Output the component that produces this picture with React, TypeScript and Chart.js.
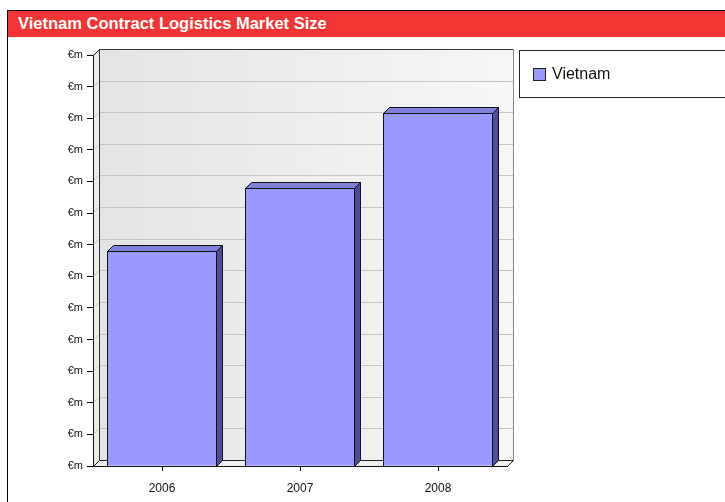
import React, { useEffect, useRef } from 'react';
import { Chart, registerables } from 'chart.js';

Chart.register(...registerables);

const title = 'Vietnam Contract Logistics Market Size';
const categories = ['2006', '2007', '2008'];
const seriesName = 'Vietnam';
const values = [6.8, 8.8, 11.15];
const yTickLabels = ['€m', '€m', '€m', '€m', '€m', '€m', '€m', '€m', '€m', '€m', '€m', '€m', '€m', '€m'];

const DEPTH = 6;
const FONT = "'Liberation Sans', Arial, sans-serif";

const wallsPlugin = {
  id: 'walls3d',
  beforeDraw(chart: any) {
    const { ctx, chartArea } = chart;
    const { left, right, top, bottom } = chartArea;
    const y = chart.scales.y;
    const d = DEPTH;
    ctx.save();
    const g = ctx.createLinearGradient(left + d, 0, right + d, 0);
    g.addColorStop(0, '#e4e4e4');
    g.addColorStop(1, '#f7f7f7');
    ctx.fillStyle = g;
    ctx.fillRect(left + d, top - d, right - left, bottom - top);
    ctx.beginPath();
    ctx.moveTo(left, top);
    ctx.lineTo(left + d, top - d);
    ctx.lineTo(left + d, bottom - d);
    ctx.lineTo(left, bottom);
    ctx.closePath();
    ctx.fillStyle = '#ececec';
    ctx.fill();
    ctx.strokeStyle = '#c4c4c4';
    ctx.lineWidth = 1;
    y.ticks.forEach((t: any) => {
      const py = Math.round(y.getPixelForValue(t.value)) + 0.5;
      ctx.beginPath();
      ctx.moveTo(left + d, py - d);
      ctx.lineTo(right + d, py - d);
      ctx.stroke();
      ctx.beginPath();
      ctx.moveTo(left, py);
      ctx.lineTo(left + d, py - d);
      ctx.stroke();
    });
    ctx.strokeStyle = '#333';
    ctx.beginPath();
    ctx.moveTo(left + d + 0.5, bottom - d);
    ctx.lineTo(left + d + 0.5, top - d + 0.5);
    ctx.lineTo(right + d + 0.5, top - d + 0.5);
    ctx.stroke();
    ctx.strokeStyle = '#888';
    ctx.beginPath();
    ctx.moveTo(right + d + 0.5, top - d + 0.5);
    ctx.lineTo(right + d + 0.5, bottom - d);
    ctx.stroke();
    ctx.strokeStyle = '#222';
    ctx.beginPath();
    ctx.moveTo(left + 0.5, bottom);
    ctx.lineTo(left + 0.5, top + 0.5);
    ctx.lineTo(left + d + 0.5, top - d + 0.5);
    ctx.stroke();
    ctx.beginPath();
    ctx.moveTo(left + 0.5, bottom + 0.5);
    ctx.lineTo(left + d + 0.5, bottom - d + 0.5);
    ctx.lineTo(right + d + 0.5, bottom - d + 0.5);
    ctx.lineTo(right + 0.5, bottom + 0.5);
    ctx.closePath();
    ctx.fillStyle = '#efefef';
    ctx.fill();
    ctx.strokeStyle = '#222';
    ctx.stroke();
    ctx.restore();
  },
  afterDatasetsDraw(chart: any) {
    const { ctx } = chart;
    const d = DEPTH;
    const meta = chart.getDatasetMeta(0);
    ctx.save();
    ctx.lineWidth = 1;
    ctx.strokeStyle = '#111';
    meta.data.forEach((bar: any) => {
      const p = bar.getProps(['x', 'y', 'base', 'width'], true);
      const l = Math.round(p.x - p.width / 2) + 0.5;
      const r = Math.round(p.x + p.width / 2) - 0.5;
      const t = Math.round(p.y) + 0.5;
      const b = Math.round(p.base) + 0.5;
      ctx.strokeRect(l, t, r - l, b - t);
      ctx.beginPath();
      ctx.moveTo(l, t);
      ctx.lineTo(l + d, t - d);
      ctx.lineTo(r + d, t - d);
      ctx.lineTo(r, t);
      ctx.closePath();
      ctx.fillStyle = '#8080df';
      ctx.fill();
      ctx.stroke();
      ctx.beginPath();
      ctx.moveTo(r, t);
      ctx.lineTo(r + d, t - d);
      ctx.lineTo(r + d, b - d);
      ctx.lineTo(r, b);
      ctx.closePath();
      ctx.fillStyle = '#4e4e98';
      ctx.fill();
      ctx.stroke();
    });
    ctx.restore();
  },
};

export default function App() {
  const ref = useRef<HTMLCanvasElement | null>(null);
  useEffect(() => {
    if (!ref.current) return;
    const chart = new Chart(ref.current, {
      type: 'bar',
      data: {
        labels: categories,
        datasets: [
          {
            label: seriesName,
            data: values,
            backgroundColor: '#9999ff',
            borderWidth: 0,
            categoryPercentage: 1,
            barPercentage: 0.79,
          },
        ],
      },
      options: {
        responsive: false,
        animation: false,
        layout: { padding: { left: 0, top: 55, right: 218, bottom: 0 } },
        plugins: {
          legend: { display: false },
          title: { display: false },
          tooltip: { enabled: false },
        },
        scales: {
          x: {
            offset: true,
            afterFit: (s: any) => { s.height = 36; },
            grid: { display: true, drawOnChartArea: false, drawTicks: true, tickLength: 5, color: '#000', offset: false },
            border: { display: true, color: '#111' },
            ticks: { color: '#111', padding: 10, font: { family: FONT, size: 12 } },
          },
          y: {
            min: 0,
            max: 13,
            afterFit: (s: any) => { s.width = 93; },
            grid: { display: true, drawOnChartArea: false, drawTicks: true, tickLength: 6, color: '#000' },
            border: { display: true, color: '#111' },
            ticks: {
              stepSize: 1,
              padding: 4,
              color: '#111',
              font: { family: FONT, size: 11 },
              callback: (_v: any, i: number) => yTickLabels[i],
            },
          },
        },
      },
      plugins: [wallsPlugin],
    });
    return () => chart.destroy();
  }, []);

  return (
    <div style={{ position: 'absolute', left: 0, top: 0, width: 725, height: 502, overflow: 'hidden', background: '#fff', fontFamily: FONT }}>
      <div style={{ position: 'absolute', left: 7, top: 10, width: 740, height: 520, borderLeft: '1px solid #000', borderTop: '1px solid #000' }} />
      <div style={{ position: 'absolute', left: 8, top: 11, width: 717, height: 26, background: '#f23434', color: '#fff', fontWeight: 'bold', fontSize: 16.5, lineHeight: '24px', paddingLeft: 10, boxSizing: 'border-box', whiteSpace: 'nowrap' }}>
        {title}
      </div>
      <canvas ref={ref} width={725} height={502} style={{ position: 'absolute', left: 0, top: 0 }} />
      <div style={{ position: 'absolute', left: 519, top: 50, width: 230, height: 46, border: '1px solid #222', boxSizing: 'content-box' }}>
        <div style={{ position: 'absolute', left: 13, top: 17, width: 11, height: 11, background: '#9999ff', border: '1px solid #222' }} />
        <div style={{ position: 'absolute', left: 32, top: 13, fontSize: 16, lineHeight: '20px', color: '#111' }}>{seriesName}</div>
      </div>
    </div>
  );
}
